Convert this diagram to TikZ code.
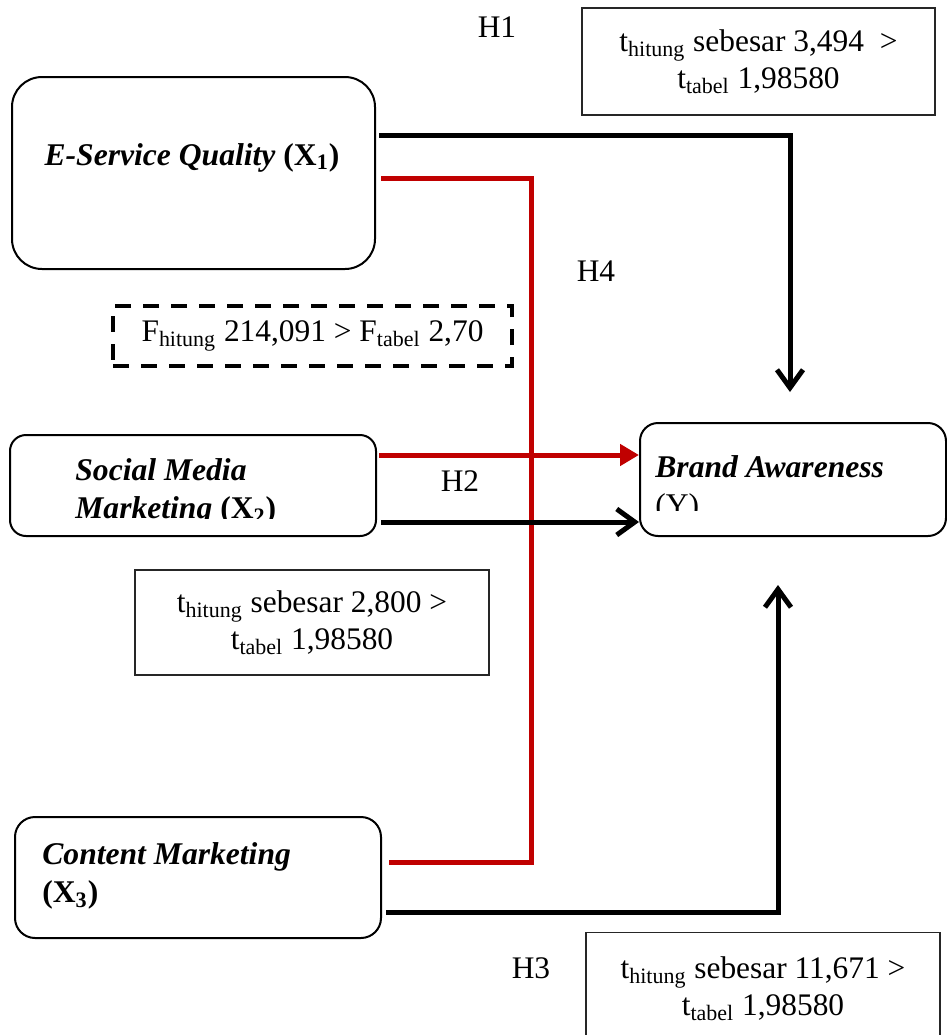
\documentclass[tikz,border=0pt]{standalone}
\usepackage{fontspec}
\setmainfont{Liberation Serif}
\usepackage{tikz}
\usetikzlibrary{arrows.meta, positioning, calc}
\definecolor{hred}{RGB}{192,0,0}

\begin{document}
\begin{tikzpicture}[x=0.5pt, y=-0.5pt,
        varbox/.style={rectangle, rounded corners=#1, draw=black, line width=1pt, fill=white, inner sep=0pt},
        varbox/.default=15pt,
        tbox/.style={rectangle, draw=black!85, line width=0.6pt, fill=white, align=center, inner sep=0pt, font=\fontsize{15.7}{18.5}\selectfont},
        fbox/.style={rectangle, draw=black, line width=2pt, dash pattern=on 8pt off 6pt, inner sep=0pt, font=\fontsize{15.7}{18.5}\selectfont},
        varlbl/.style={font=\fontsize{15.8}{19}\selectfont\bfseries, align=left, inner sep=0pt},
        hlbl/.style={font=\fontsize{15.7}{18.5}\selectfont},
        hitam/.style={line width=2.5pt, -{Straight Barb[length=9pt, width=13pt]}},
        merah/.style={line width=2.5pt, draw=hred},
        merahpanah/.style={merah, -{Triangle[length=9.5pt, width=10.5pt, fill=hred]}}
    ]
        \useasboundingbox (0,0) rectangle (947,1035);

        % variabel
        \node[varbox=15pt, minimum width=181.5pt, minimum height=96pt] (esq) at (193.5,173) {};
        \node[varbox=8pt, minimum width=183pt, minimum height=50.5pt] (smm) at (193,485.5) {};
        \node[varbox=10pt, minimum width=183pt, minimum height=60.5pt] (cm) at (198,877.5) {};
        \node[varbox=9pt, minimum width=153pt, minimum height=56.5pt] (ba) at (793,479.5) {};

        \node[varlbl, anchor=base] (esqlbl) at (192,165) {\textit{E-Service Quality} (X\textsubscript{1})};
        \begin{scope}
            \clip (60,440) rectangle (370,518);
            \node[varlbl, anchor=north west] (smmlbl) at (75,458) {\textit{Social Media}\\\textit{Marketing} (X\textsubscript{2})};
        \end{scope}
        \node[varlbl, anchor=north west] (cmlbl) at (42,842) {\textit{Content Marketing}\\(X\textsubscript{3})};
        \begin{scope}
            \clip (645,430) rectangle (940,510);
            \node[varlbl, anchor=north west] (balbl) at (655,455) {\textit{Brand Awareness}\\\mdseries(Y)};
        \end{scope}

        % hasil uji
        \node[tbox, minimum width=176.5pt, minimum height=53.5pt] (thit1) at (758.5,61.5) {t\textsubscript{hitung} sebesar 3,494~~>\\t\textsubscript{tabel} 1,98580};
        \node[tbox, minimum width=177pt, minimum height=52.5pt] (thit2) at (312,622.5) {t\textsubscript{hitung} sebesar 2,800 >\\t\textsubscript{tabel} 1,98580};
        \node[tbox, minimum width=177pt, minimum height=56pt, anchor=north] (thit3) at (763,932) {t\textsubscript{hitung} sebesar 11,671 >\\t\textsubscript{tabel} 1,98580};
        \node[fbox, minimum width=199.5pt, minimum height=30pt] (fhit) at (312.5,336) {F\textsubscript{hitung} 214,091 > F\textsubscript{tabel} 2,70};

        \node[hlbl] (h1) at (497,27) {H1};
        \node[hlbl] (h4) at (596,271) {H4};
        \node[hlbl] (h2) at (460,481) {H2};
        \node[hlbl] (h3) at (531,968) {H3};

        % jalur
        \coordinate (h1end) at (790,392);
        \coordinate (h4mid) at (531,520);
        \coordinate (h3end) at (778,585);

        \draw[hitam] ([xshift=1.5pt, yshift=19pt]esq.east) -| (h1end);
        \draw[merah] ([xshift=2.5pt, yshift=-2.5pt]esq.east) -| (h4mid) |- ([xshift=3.5pt, yshift=7.75pt]cm.east);
        \draw[merahpanah] ([xshift=1pt, yshift=15.25pt]smm.east) -- ([yshift=12.25pt]ba.west);
        \draw[hitam] ([xshift=2pt, yshift=-18.25pt]smm.east) -- ([yshift=-21.25pt]ba.west);
        \draw[hitam] ([xshift=2pt, yshift=-17.25pt]cm.east) -| (h3end);
    \end{tikzpicture}
\end{document}
